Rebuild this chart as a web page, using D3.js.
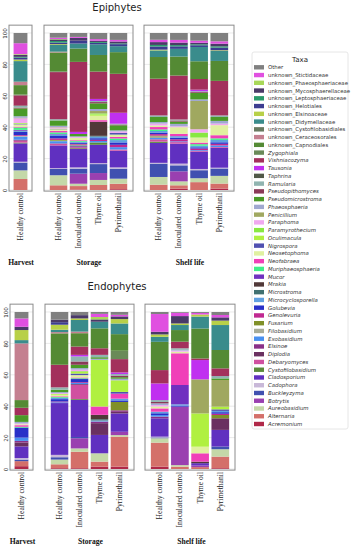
<!DOCTYPE html>
<html>
<head>
<meta charset="utf-8">
<script src="https://cdn.jsdelivr.net/npm/d3@7"></script>
<style>
body { margin: 0; background: #fff; }
svg { display: block; }
</style>
</head>
<body>
<div id="chart"></div>
<script>
// taxa, bottom of the stack first (legend shows them the other way round)
var taxa = [
    'Acremonium', 'Alternaria', 'Aureobasidium', 'Botrytis', 'Buckleyzyma', 'Cadophora', 'Cladosporium', 'Cystofilobasidium', 'Debaryomyces', 'Diplodia',
    'Elsinoe', 'Exobasidium', 'Filobasidium', 'Fusarium', 'Genolevuria', 'Golubevia', 'Microcyclosporella', 'Microstroma', 'Mrakia', 'Mucor',
    'Muriphaeosphaeria', 'Neofabraea', 'Neosetophoma', 'Nigrospora', 'Oculimacula', 'Paramyrothecium', 'Paraphoma', 'Penicillium', 'Phaeosphaeria', 'Pseudomicrostroma',
    'Pseudopithomyces', 'Ramularia', 'Taphrina', 'Tausonia', 'Vishniacozyma', 'Zygophiala', 'unknown_Capnodiales', 'unknown_Ceraceosorales', 'unknown_Cystofilobasidiales', 'unknown_Didymellaceae',
    'unknown_Elsinoaceae', 'unknown_Helotiales', 'unknown_Leptosphaeriaceae', 'unknown_Mycosphaerellaceae', 'unknown_Phaeosphaeriaceae', 'unknown_Stictidaceae', 'Other'
]

var colors = [
    '#b02848', '#d4706a', '#c4d8a8', '#9a40b0', '#4050b0', '#c8b8d8', '#6030c0', '#5a8a3a', '#d050a0', '#6a3060',
    '#8a3088', '#4890f0', '#a8ac98', '#809028', '#c02890', '#2830c8', '#60a0e0', '#407070', '#503838', '#7030c0',
    '#40f088', '#f040b8', '#e0f0a0', '#5050b0', '#b0f040', '#88e840', '#f0a8f0', '#a0a860', '#a0a8d0', '#4a9a28',
    '#8a3a58', '#90b4b0', '#505848', '#c030f0', '#a3305c', '#6a8a58', '#548a34', '#c48090', '#687a60', '#3a8c8c',
    '#b8d048', '#3c3c90', '#2a9a6a', '#4a3a68', '#a8d858', '#e050e0', '#808080'
]

var stages = ['Harvest', 'Storage', 'Shelf life']
var harvestSamples = ['Healthy control']
var samples = ['Healthy control', 'Inoculated control', 'Thyme oil', 'Pyrimethanil']
var yticks = [0, 20, 40, 60, 80, 100]

// relative abundance (%) per sample, same order as taxa

// epiphytes
var epiHarvestHC = [0, 7, 5.5, 0, 5, 0.5, 11.7, 0.5, 1, 0.3,
    0.5, 2, 0.5, 0, 0.5, 2, 0.5, 0.3, 0, 0.5,
    1.5, 0.5, 1.5, 0.3, 0.3, 0.3, 3, 0.3, 1, 5,
    0.5, 1, 0.3, 0, 6.5, 0.5, 6, 2, 0.3, 13,
    1, 1.2, 0.5, 1.2, 0.5, 7, 6.5]
var epiStorageHC = [0, 3, 6.4, 0, 4, 0.5, 14.5, 0, 1, 0,
    0.3, 1.4, 0.3, 0.5, 1, 1.5, 1, 0, 0, 0.3,
    1, 1, 0.8, 0.2, 0.2, 0.2, 0.8, 0.2, 0.8, 3.4,
    0, 0.8, 0, 0, 30, 0.5, 12, 0.3, 0.3, 4.2,
    0.5, 1, 1, 1, 0.3, 0.8, 3]
var epiStorageIC = [0.3, 2.2, 1.5, 6.4, 3.2, 0.8, 11.7, 0.5, 0.5, 0,
    0.8, 0.5, 0, 0.5, 0.5, 0.8, 0.5, 0, 0, 0,
    0.5, 0.5, 1.5, 0, 0, 0, 0.5, 0, 0.5, 1.5,
    0, 0, 0, 1.3, 44.6, 0, 8.5, 0, 0, 3.2,
    0, 1.8, 0, 1.8, 0, 0.6, 2.5]
var epiStorageTO = [0, 3.2, 3.2, 4.4, 5.7, 0.6, 11.7, 1.5, 0, 0,
    0, 0.9, 0, 0, 0.8, 1, 1, 0.5, 9, 0,
    0, 1, 2.8, 0, 0.8, 0.7, 0, 1.5, 1.3, 3.6,
    0.8, 0.7, 0, 1.3, 17.4, 0, 10.6, 0, 0, 6.8,
    0, 0.9, 0.6, 0.8, 0, 1, 3.9]
var epiStoragePY = [0.5, 3.5, 3.2, 0, 6.4, 0.8, 10.6, 0, 0.8, 0,
    0, 1.5, 0, 0, 1.5, 1.5, 1.5, 0, 0, 0,
    1, 1, 1.5, 1, 0, 0, 1, 0, 0.7, 3.2,
    0.5, 0.5, 0, 7, 24.8, 0, 13.8, 0, 0, 3.8,
    0, 1.3, 0.5, 1.2, 0, 1, 4.4]
var epiShelfHC = [0, 3.4, 4.9, 0, 8.5, 0.5, 12.7, 0.8, 1.5, 0,
    0, 0.8, 1, 0.5, 1, 1, 1, 0, 0, 0,
    1, 1.5, 1, 0, 0, 0, 1.2, 0, 1, 3.2,
    0, 1, 0, 0, 23.4, 0, 13.8, 0, 0, 4.2,
    0.5, 2, 1, 1.8, 0, 1.5, 4.3]
var epiShelfIC = [0.9, 2.1, 2.5, 6.4, 3.8, 1.1, 12.7, 0, 1, 0,
    0, 0.5, 0, 0, 1.3, 1, 1, 0, 0, 0,
    0, 1.5, 4.2, 0, 0, 0, 0.6, 0, 1.5, 1.5,
    0.7, 0.6, 0, 0, 28, 0, 12.1, 0, 0, 4.9,
    0, 1.6, 0.8, 1.6, 0, 1.7, 4.4]
var epiShelfTO = [0, 5, 2.5, 0, 5.1, 0.8, 11, 0, 0.5, 0,
    0, 0.5, 0, 0, 1, 0.8, 1, 0, 0, 0,
    1, 1, 3.2, 0, 0, 3.2, 2.1, 18, 1, 4.2,
    0.5, 0.5, 0, 1, 6.8, 0, 11.3, 0, 0, 9.1,
    0, 1.1, 0.6, 1, 0, 1.3, 4.9]
var epiShelfPY = [0.9, 3.2, 4.9, 0, 4.7, 0.5, 12.7, 0, 0.5, 0,
    0, 1, 0, 0, 1, 1, 1.5, 0, 0, 0,
    1, 2, 6.4, 0, 0, 0, 1, 0, 1.7, 2.5,
    0, 1, 0, 0, 22, 0, 12.7, 0, 0, 6.4,
    0.4, 1.7, 0.8, 1.7, 0, 1.5, 5.3]

// endophytes
var endoHarvestHC = [1.8, 3.2, 0, 0, 1, 1, 7.4, 0, 0, 2.5,
    1, 2.1, 0, 0, 0, 6.4, 0, 0, 0, 0,
    0.5, 1, 0.6, 0, 0, 0, 0.5, 0, 1, 4.3,
    0, 0, 0, 0, 4.7, 0, 4.9, 36.1, 0, 2.1,
    6.4, 0, 0, 2.1, 0, 5.3, 4.1]
var endoStorageHC = [0.5, 2.5, 3, 0, 1.5, 1.5, 33, 0, 0, 0,
    0, 0.5, 0, 0, 0.5, 1.5, 0.8, 0, 0, 0,
    0.5, 0.5, 1, 0, 0.5, 0, 0.5, 0, 0.7, 1.5,
    0, 1.5, 0, 0, 14.4, 0, 20, 0.8, 0, 1.5,
    3.2, 1.6, 0, 1.6, 0, 0, 4.9]
var endoStorageIC = [0.5, 10.5, 2.1, 6.5, 0.8, 0, 23.7, 0.5, 9, 0.5,
    0, 0.7, 0, 0, 0.5, 2, 0, 0, 0, 0,
    0.5, 0.5, 1.5, 1, 1, 0.5, 1, 0, 1, 2.1,
    2.1, 3.2, 0, 1, 5.3, 0, 8.5, 1, 0, 7.4,
    1, 0, 0, 2.1, 0, 0, 2]
var endoStorageTO = [1.5, 3.2, 5.3, 0, 0, 0, 11.7, 0, 0, 7.5,
    1, 0, 0, 0, 0, 0, 0.7, 0.8, 2.8, 0,
    0, 5.3, 0, 0, 29.7, 0, 0, 0, 0.7, 1,
    0, 1.5, 0, 0, 4.2, 0, 12.7, 0, 0, 4.2,
    0, 0, 0, 1.5, 1.5, 2, 1.2]
var endoStoragePY = [1.5, 19.1, 1, 2.1, 0, 0, 11.7, 0, 0, 1,
    1, 0, 0, 5.3, 0, 1, 1.1, 0, 0, 0,
    0, 3.2, 0, 1.1, 7.4, 0, 0, 0, 1, 1,
    1, 1, 0, 1, 8.5, 5.3, 10.6, 0, 0, 6.8,
    2.8, 0, 0, 1.7, 0, 1, 1.8]
var endoShelfHC = [1.5, 15.3, 2.8, 0, 0.5, 0.5, 11.7, 0, 0, 0,
    1.1, 1, 0, 0, 0, 1.1, 1, 0, 0, 0,
    0, 2.1, 1.2, 0, 0, 0, 1, 0, 1, 0,
    0.9, 1.2, 0, 10.6, 8.5, 0, 18, 0, 0, 3.2,
    1.5, 0, 0, 1.7, 0, 11.3, 1.3]
var endoShelfIC = [0, 1.5, 1, 37.2, 0, 0, 0, 0, 0, 0,
    0, 0, 0, 0, 0, 0.7, 0.8, 0, 0, 12.3,
    0, 20.2, 1, 0, 0, 0, 0.7, 0, 0.5, 0,
    0, 1, 0, 0, 4.2, 0, 7.4, 0, 0, 3.2,
    1, 0, 0, 4.7, 0, 2.1, 0.5]
var endoShelfTO = [0, 1.2, 0, 1, 0, 0, 1.5, 0, 0, 0,
    0, 0, 0, 0, 0, 0, 0, 0, 1, 0,
    0, 5.3, 4.2, 0, 21.2, 0, 0, 21.7, 0, 0,
    0, 0, 0, 12.3, 1, 0, 19.1, 0, 0, 7.6,
    1.3, 0, 0, 0, 0, 1, 0.6]
var endoShelfPY = [0.5, 7.4, 4.7, 0, 1.7, 0, 10.6, 0, 0, 7.4,
    0, 0, 0, 2.1, 0.8, 1, 0.8, 0, 0, 0,
    0, 0, 0, 1, 1.7, 0, 0, 17, 0, 1,
    0, 1.5, 0, 0, 4.9, 0, 11.7, 0, 0, 15.9,
    2.8, 0, 0, 2.1, 0, 1.5, 1.9]

// layout
var W = 356, H = 550
var serif = '"Liberation Serif", "Times New Roman", serif'
var sans = '"DejaVu Sans", sans-serif'

var svg = d3.select('#chart')
    .append('svg')
    .attr('width', W)
    .attr('height', H)

var panels = [
    {
        title: 'Epiphytes', titleY: 11, y0: 190, y1: 33, dx: 0, labelY: 265,
        groups: [[epiHarvestHC], [epiStorageHC, epiStorageIC, epiStorageTO, epiStoragePY], [epiShelfHC, epiShelfIC, epiShelfTO, epiShelfPY]]
    },
    {
        title: 'Endophytes', titleY: 290, y0: 469, y1: 312, dx: 1, labelY: 544,
        groups: [[endoHarvestHC], [endoStorageHC, endoStorageIC, endoStorageTO, endoStoragePY], [endoShelfHC, endoShelfIC, endoShelfTO, endoShelfPY]]
    }
]

var groupX = [[9, 32], [44, 133], [144, 234]]
var groupLabelX = [21, 89, 190]

panels.forEach(p => {
    var y = d3.scaleLinear().domain([0, 100]).range([p.y0, p.y1])

    svg.append('text')
        .text(p.title)
        .attr('x', 117)
        .attr('y', p.titleY)
        .attr('text-anchor', 'middle')
        .style('font-family', sans)
        .style('font-size', '10px')
        .attr('fill', '#222')

    p.groups.forEach((vals, gi) => {
        var names = gi == 0 ? harvestSamples : samples
        var x0 = groupX[gi][0] + p.dx, x1 = groupX[gi][1] + p.dx
        var x = d3.scaleBand()
            .domain(names)
            .range([x0, x1])
            .paddingInner(0.125)
            .paddingOuter(0.29)

        var g = svg.append('g')

        // light grid
        g.selectAll('line.grid')
            .data(yticks)
            .enter()
            .append('line')
            .attr('x1', x0)
            .attr('x2', x1)
            .attr('y1', d => y(d))
            .attr('y2', d => y(d))
            .attr('stroke', '#dcdcdc')
            .attr('stroke-width', 0.6)

        var rows = vals.map((arr, i) => {
            var o = { name: names[i] }
            taxa.forEach((t, k) => o[t] = arr[k])
            return o
        })
        var series = d3.stack().keys(taxa)(rows)

        g.selectAll('g.layer')
            .data(series)
            .enter()
            .append('g')
            .attr('fill', (d, i) => colors[i])
            .selectAll('rect')
            .data(d => d.filter(s => s[1] - s[0] > 0))
            .enter()
            .append('rect')
            .attr('x', d => x(d.data.name))
            .attr('width', x.bandwidth())
            .attr('y', d => y(d[1]))
            .attr('height', d => y(d[0]) - y(d[1]))

        // frame
        g.append('rect')
            .attr('x', x0)
            .attr('y', y(105))
            .attr('width', x1 - x0)
            .attr('height', y(-0.7) - y(105))
            .attr('fill', 'none')
            .attr('stroke', '#8c8c8c')
            .attr('stroke-width', 1)

        // sample labels
        g.selectAll('text.sample')
            .data(names)
            .enter()
            .append('text')
            .text(d => d)
            .attr('transform', d => `translate(${x(d) + x.bandwidth() / 2 + 2.6},${p.y0 + 3}) rotate(-90)`)
            .attr('text-anchor', 'end')
            .style('font-family', serif)
            .style('font-size', '7.6px')
            .attr('fill', '#1a1a1a')

        svg.append('text')
            .text(stages[gi])
            .attr('x', groupLabelX[gi] + p.dx * 1.5)
            .attr('y', p.labelY)
            .attr('text-anchor', 'middle')
            .style('font-family', serif)
            .style('font-weight', 'bold')
            .style('font-size', '7.6px')
            .attr('fill', '#111')

        if (gi == 0) {
            var yaxis = d3.axisLeft(y).tickValues(yticks).tickSize(0)
            var ax = svg.append('g')
                .attr('transform', `translate(${x0},0)`)
                .call(yaxis)
            ax.select('.domain').remove()
            ax.selectAll('text')
                .attr('x', 0)
                .attr('dy', 0)
                .attr('y', -2.3)
                .attr('transform', 'rotate(-90)')
                .attr('text-anchor', 'middle')
                .style('font-family', sans)
                .style('font-size', '5.6px')
                .attr('fill', '#333')
        }
    })
})

// legend
var legend = svg.append('g')

legend.append('rect')
    .attr('x', 252)
    .attr('y', 52)
    .attr('width', 96)
    .attr('height', 377)
    .attr('rx', 2)
    .attr('fill', '#fff')
    .attr('stroke', '#e0e0e0')
    .attr('stroke-width', 0.8)

legend.append('text')
    .text('Taxa')
    .attr('x', 300)
    .attr('y', 62)
    .attr('text-anchor', 'middle')
    .style('font-family', sans)
    .style('font-size', '7px')
    .attr('fill', '#222')

var legendTaxa = taxa.slice().reverse()
var ly = d3.scalePoint()
    .domain(legendTaxa)
    .range([67.3, 424])

var items = legend.selectAll('g.item')
    .data(legendTaxa)
    .enter()
    .append('g')
    .attr('transform', d => `translate(0,${ly(d)})`)

items.append('rect')
    .attr('x', 254)
    .attr('y', -2.2)
    .attr('width', 10)
    .attr('height', 4.4)
    .attr('fill', d => colors[taxa.indexOf(d)])

items.append('text')
    .text(d => d)
    .attr('x', 268)
    .attr('y', 2)
    .style('font-family', sans)
    .style('font-size', '5.4px')
    .style('font-style', d => (d.startsWith('unknown_') || d == 'Other') ? 'normal' : 'italic')
    .attr('fill', '#333')
</script>
</body>
</html>
